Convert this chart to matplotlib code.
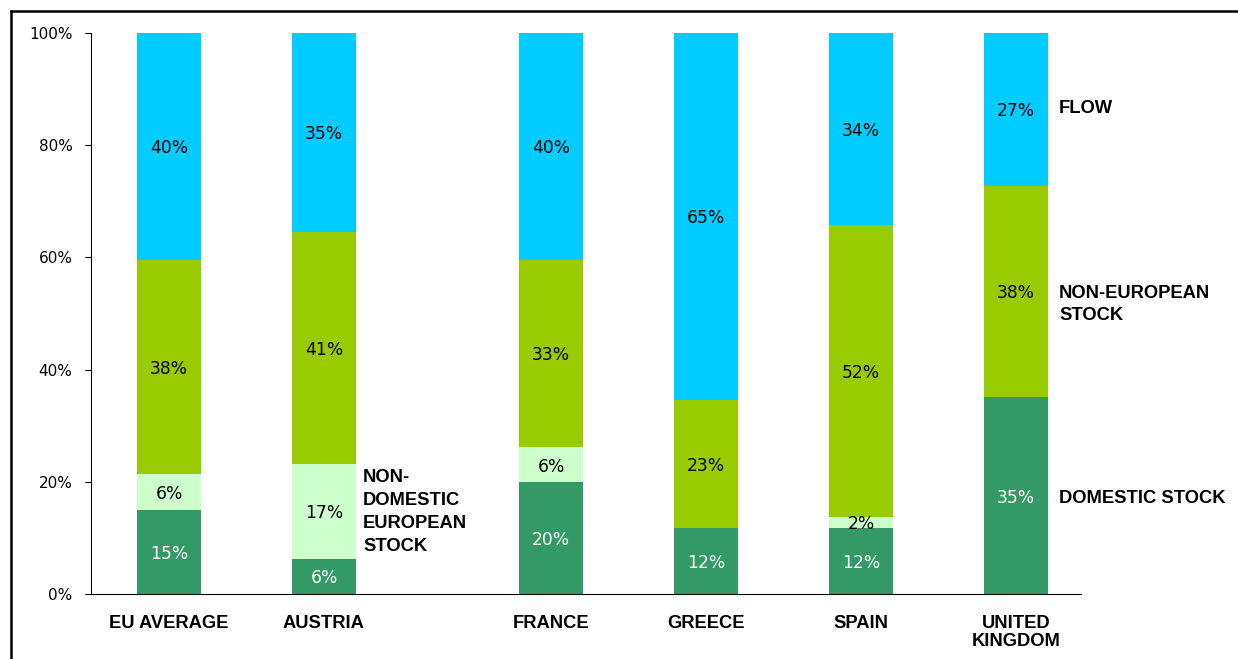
import matplotlib as mpl
mpl.rcParams['font.family'] = 'DejaVu Sans'
import matplotlib.pyplot as plt
from matplotlib.lines import Line2D
import numpy as np

# share of each component, per country (percent)
countries = ['EU AVERAGE', 'AUSTRIA', 'FRANCE', 'GREECE', 'SPAIN', 'UNITED\nKINGDOM']
domestic     = [15.0,  6.3, 19.9, 11.8, 11.8, 35.1]
non_dom_eu   = [ 6.4, 16.9,  6.3,  0.0,  2.0,  0.0]
non_european = [38.2, 41.4, 33.4, 22.8, 51.9, 37.7]
flow         = [40.4, 35.4, 40.4, 65.4, 34.3, 27.2]

SERIES = [
    (domestic,     '#339966', 'white'),
    (non_dom_eu,   '#ccffcc', 'black'),
    (non_european, '#99cc00', 'black'),
    (flow,         '#00ccff', 'black'),
]

W, H = 1238, 659
fig = plt.figure(figsize=(W/100., H/100.), dpi=100)
ax = fig.add_axes([91./W, 1-594./H, (1081.-91)/W, (594.-33)/H])

xpos = np.array([0, 1, 2.465, 3.465, 4.465, 5.465])
width = 0.413

bottom = np.zeros(len(countries))
for vals, col, tcol in SERIES:
    vals = np.asarray(vals)
    ax.bar(xpos, vals, width, bottom=bottom, color=col, edgecolor='none', zorder=2)
    for x, b, v in zip(xpos, bottom, vals):
        if v <= 0:
            continue
        ax.text(x, b + v/2., '{0:.0f}%'.format(v), ha='center', va='center_baseline',
                fontsize=12.3, color=tcol, zorder=3)
    bottom += vals

ax.set_xlim(-0.503, 5.884)
ax.set_ylim(0, 100)
ax.set_yticks(np.arange(0, 101, 20))
ax.set_yticklabels(['{0}%'.format(t) for t in range(0, 101, 20)], fontsize=11)
ax.set_xticks(xpos)
ax.set_xticklabels(countries, fontsize=13.2, fontweight='bold', family='Liberation Sans',
                   linespacing=1.1)
ax.tick_params(axis='x', length=0, pad=15)
ax.tick_params(axis='y', length=4.3, width=0.8, pad=9, direction='out')
for s in ['top', 'right']:
    ax.spines[s].set_visible(False)
ax.spines['left'].set_linewidth(0.8)
ax.spines['bottom'].set_linewidth(0.8)

# series names next to the bars
lab = dict(fontsize=13.2, fontweight='bold', family='Liberation Sans',
           ha='left', va='center', linespacing=1.45)
ax.text(5.742, 86.6, 'FLOW', **lab)
ax.text(5.742, 51.6, 'NON-EUROPEAN\nSTOCK', **lab)
ax.text(5.742, 17.0, 'DOMESTIC STOCK', **lab)
ax.text(1.252, 14.6, 'NON-\nDOMESTIC\nEUROPEAN\nSTOCK', **lab)

# outer frame
fig.add_artist(Line2D([10.5/W, 10.5/W], [0, 1-11./H], color='black', lw=1.8))
fig.add_artist(Line2D([10.5/W, 1], [1-11./H, 1-11./H], color='black', lw=1.8))

fig.savefig('out.png', dpi=100)
